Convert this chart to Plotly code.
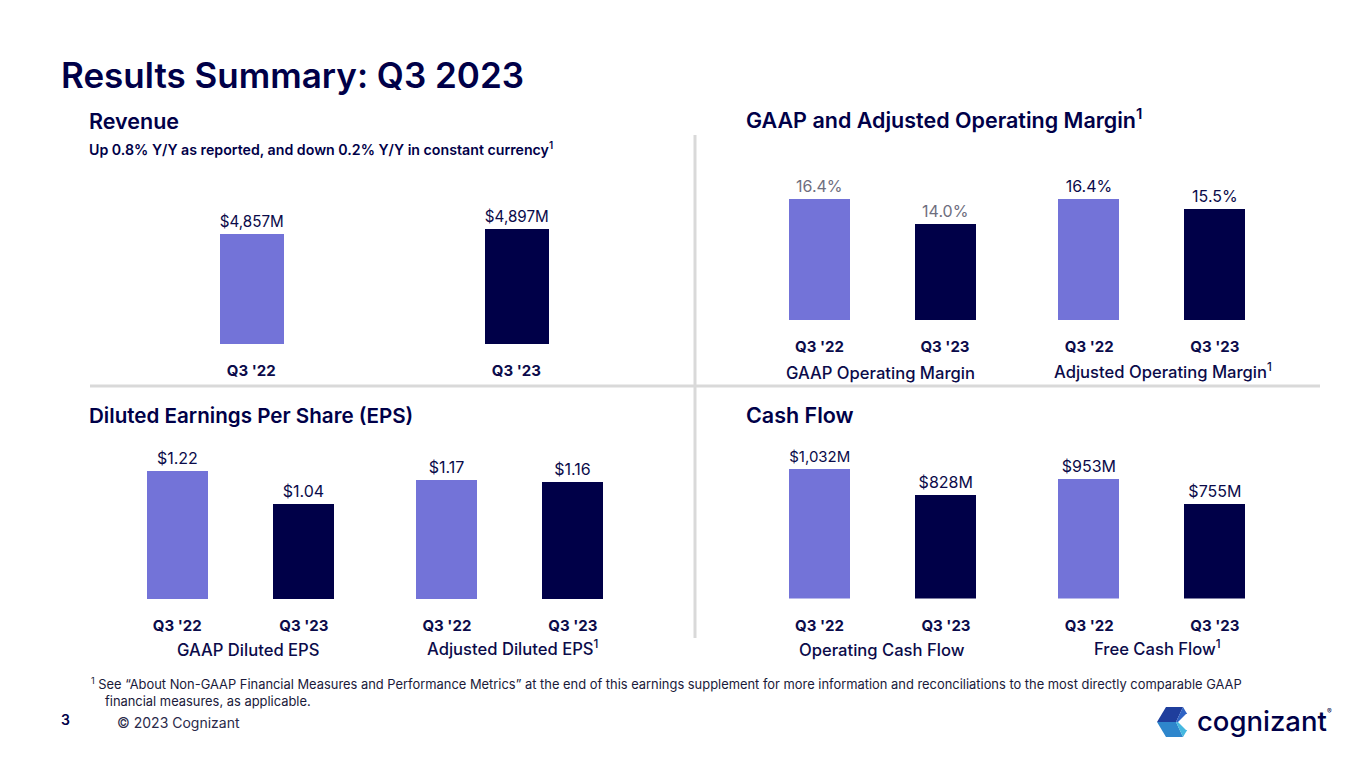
import plotly.graph_objects as go

# ---------------- data ----------------
periods = ["Q3 '22", "Q3 '23"]
revenue = [4857, 4897]                 # $M
gaap_margin = [16.4, 14.0]             # %
adj_margin = [16.4, 15.5]              # %
gaap_eps = [1.22, 1.04]                # $
adj_eps = [1.17, 1.16]                 # $
op_cash_flow = [1032, 828]             # $M
free_cash_flow = [953, 755]            # $M

W, H = 1365, 768
LIGHT = "#7373D8"
DARK = "#000048"
NAVY = "#0B0B4A"
GREY = "#6E6E7E"
FONT = "Inter"


def X(px):
    return px / W


def Y(py):
    return 1 - py / H


fig = go.Figure()

# panel definitions: (values, label format, centers px, bar width px, bottom px, top px, y range, label color)
panels = [
    (revenue, lambda v: f"${v:,.0f}M", (251.3, 516.3), 64, 344, 160, [4029, 5418], NAVY),
    (gaap_margin, lambda v: f"{v:.1f}%", (819.5, 945.0), 61, 320, 170, [4.95, 19.15], GREY),
    (adj_margin, lambda v: f"{v:.1f}%", (1089.2, 1214.8), 61, 320, 170, [4.95, 19.15], NAVY),
    (gaap_eps, lambda v: f"${v:.2f}", (177.2, 303.8), 61, 599, 440, [0.519, 1.388], NAVY),
    (adj_eps, lambda v: f"${v:.2f}", (446.9, 572.8), 61, 599, 440, [0.519, 1.388], NAVY),
    (op_cash_flow, lambda v: f"${v:,.0f}M", (819.5, 946.0), 61, 598.5, 440, [0, 1262], NAVY),
    (free_cash_flow, lambda v: f"${v:,.0f}M", (1089.2, 1214.8), 61, 598.5, 440, [0, 1262], NAVY),
]

layout_axes = {}
for i, (vals, fmt, centers, bw, bottom, top, yr, tcol) in enumerate(panels, start=1):
    sfx = "" if i == 1 else str(i)
    c1, c2 = centers
    d = c2 - c1
    fig.add_trace(go.Bar(
        x=periods, y=vals,
        xaxis="x" + sfx, yaxis="y" + sfx,
        marker=dict(color=[LIGHT, DARK], line=dict(width=0)),
        width=bw / d,
        text=[fmt(v) for v in vals],
        textposition="outside",
        textfont=dict(family=FONT, size=16, color=tcol),
        cliponaxis=False,
        hoverinfo="skip",
        showlegend=False,
    ))
    layout_axes["xaxis" + sfx] = dict(
        domain=[X(c1 - d / 2), X(c2 + d / 2)],
        anchor="y" + sfx,
        type="category",
        range=[-0.5, 1.5],
        showgrid=False, zeroline=False, showline=False,
        ticks="outside", ticklen=13, tickcolor="rgba(0,0,0,0)",
        tickfont=dict(family=FONT, size=15, color=NAVY, weight=700),
        fixedrange=True,
    )
    layout_axes["yaxis" + sfx] = dict(
        domain=[Y(bottom), Y(top)],
        anchor="x" + sfx,
        range=yr,
        visible=False,
        fixedrange=True,
    )

fig.update_layout(**layout_axes)

ann = []


def text(x, y, s, size, color=NAVY, weight=400, xanchor="left"):
    ann.append(dict(
        x=X(x), y=Y(y), xref="paper", yref="paper", text=s, showarrow=False,
        xanchor=xanchor, yanchor="middle", borderpad=0,
        font=dict(family=FONT, size=size, color=color, weight=weight),
    ))


text(60, 75, "Results Summary: Q3 2023", 35, DARK, 600)
text(88, 121, "Revenue", 21.5, DARK, 600)
text(88, 148, "Up 0.8% Y/Y as reported, and down 0.2% Y/Y in constant currency<sup>1</sup>", 14.2, DARK, 600)
text(745, 118, "GAAP and Adjusted Operating Margin<sup>1</sup>", 21.5, DARK, 600)
text(88, 415, "Diluted Earnings Per Share (EPS)", 20.6, DARK, 600)
text(745, 415, "Cash Flow", 21.5, DARK, 600)

text(880, 373, "GAAP Operating Margin", 16.6, NAVY, 500, "center")
text(1163, 371, "Adjusted Operating Margin<sup>1</sup>", 16.6, NAVY, 500, "center")
text(248, 650, "GAAP Diluted EPS", 16.6, NAVY, 500, "center")
text(512, 648, "Adjusted Diluted EPS<sup>1</sup>", 16.6, NAVY, 500, "center")
text(882, 650, "Operating Cash Flow", 16.6, NAVY, 500, "center")
text(1157, 648, "Free Cash Flow<sup>1</sup>", 16.6, NAVY, 500, "center")

text(90, 683, "<sup>1</sup> See \u201cAbout Non-GAAP Financial Measures and Performance Metrics\u201d at the end of this earnings "
     "supplement for more information and reconciliations to the most directly comparable GAAP", 12.9, "#1A1A3A")
text(104, 701, "financial measures, as applicable.", 12.9, "#1A1A3A")
text(60, 719, "3", 14, DARK, 600)
text(116, 722, "\u00a9 2023 Cognizant", 14, "#2A2A4A")
text(1196, 721, "cognizant", 27.5, DARK, 500)
text(1326, 711, "\u00ae", 7, DARK)

shapes = [
    dict(type="line", xref="paper", yref="paper", x0=X(695), x1=X(695), y0=Y(135), y1=Y(638),
         line=dict(color="#D9D9D9", width=3)),
    dict(type="line", xref="paper", yref="paper", x0=X(90), x1=X(1320), y0=Y(386), y1=Y(386),
         line=dict(color="#D9D9D9", width=3)),
]


def poly(pts, color):
    path = "M " + " L ".join(f"{X(a)},{Y(b)}" for a, b in pts) + " Z"
    return dict(type="path", xref="paper", yref="paper", path=path,
                fillcolor=color, line=dict(width=0))


# logo hexagon (flat top)
L, TL, TR, R, BR, BL = (1157, 722), (1166, 707), (1183, 707), (1192, 722), (1183, 737), (1166, 737)
C = (1176, 722)
shapes += [
    poly([L, TL, TR, C], "#1F3E9C"),
    poly([TR, R, C], "#2F63C4"),
    poly([L, C, BR, BL], "#2E86CC"),
    poly([C, R, BR], "#45B8E0"),
    poly([(1178, 722), (1186, 714), (1193, 714), (1193, 730), (1186, 730)], "#FFFFFF"),
]

fig.update_layout(
    width=W, height=H,
    margin=dict(l=0, r=0, t=0, b=0),
    paper_bgcolor="white", plot_bgcolor="white",
    annotations=ann, shapes=shapes,
    bargap=0,
    showlegend=False,
)

fig.write_html("out.html", config={"displayModeBar": False},
               post_script="document.body.style.margin='0px';document.body.style.overflow='hidden';")
